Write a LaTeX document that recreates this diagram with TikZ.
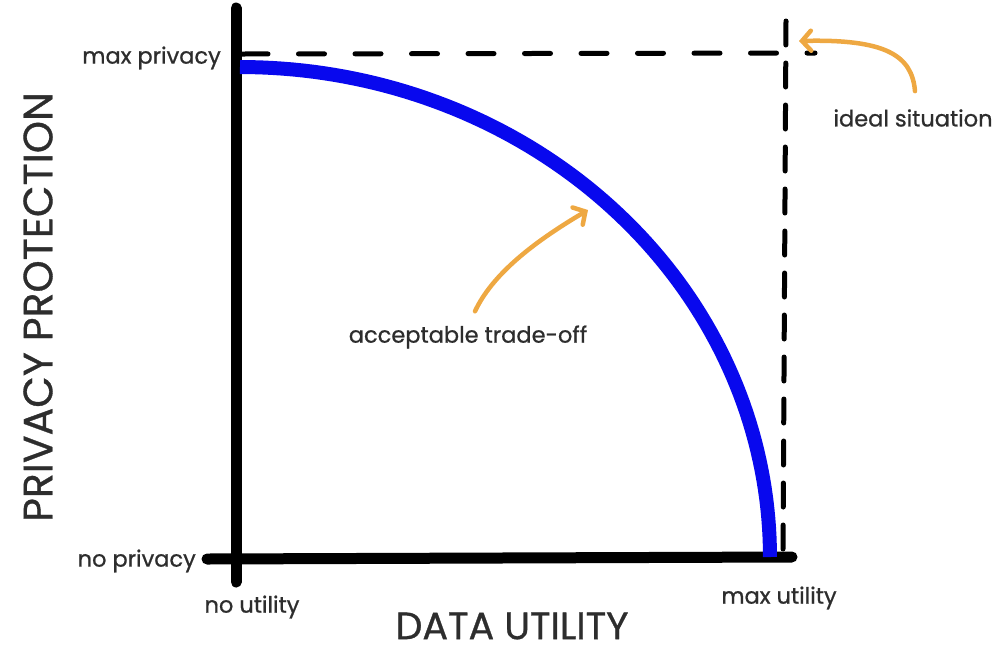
\documentclass[tikz,border=0pt]{standalone}
\usepackage{fontspec}
\setmainfont{Poppins}[FakeBold=0.8]
\usetikzlibrary{arrows.meta}
\definecolor{curveblue}{RGB}{8,8,238}
\definecolor{arroworange}{RGB}{238,168,66}
\definecolor{labelgray}{RGB}{45,45,45}
\begin{document}
\begin{tikzpicture}[x=1pt,y=-1pt,
  axis/.style={line width=11pt, line cap=round},
  hguide/.style={line width=5pt, line cap=round, dash pattern=on 26pt off 30.5pt},
  vguide/.style={line width=5pt, line cap=round, dash pattern=on 24pt off 18pt},
  frontier/.style={line width=14pt, curveblue},
  pointer/.style={line width=4.5pt, arroworange, line cap=round,
    -{Straight Barb[length=9pt,width=20pt,line cap=round]}},
  smalllabel/.style={font=\fontsize{22.5}{26}\selectfont, text=labelgray, inner sep=0pt},
  biglabel/.style={font=\fontsize{38}{42}\selectfont, text=labelgray, inner sep=0pt}]
\useasboundingbox (0,0) rectangle (999,649);

% axes
\coordinate (ytop) at (236,8);
\coordinate (ybot) at (236,582);
\coordinate (xleft) at (207,559);
\coordinate (xright) at (792,557);
\draw[axis] (ytop) -- (ybot);
\draw[axis] (xleft) -- (xright);

% ideal bounds
\coordinate (hstart) at (242,54);
\coordinate (hend) at (815,53);
\coordinate (vtop) at (786,21);
\coordinate (vbot) at (783,552);
\draw[hguide] (hstart) -- (hend);
\draw[vguide] (vtop) -- (vbot);

% trade-off frontier
\draw[frontier] plot[domain=0:90, samples=80] ({240+530*sin(\x)}, {557-490*cos(\x)});

% labels
\node[smalllabel, anchor=east] (maxp) at (221,58) {max privacy};
\node[smalllabel, anchor=east] (nop) at (196,561) {no privacy};
\node[smalllabel] (nou) at (252,607) {no utility};
\node[smalllabel] (maxu) at (779,598) {max utility};
\node[smalllabel] (ideal) at (913,118) {ideal situation};
\node[smalllabel] (trade) at (468,337) {acceptable trade-off};
\node[biglabel] (xtitle) at (512,626) {DATA UTILITY};
\node[biglabel, rotate=90, font=\fontsize{41}{45}\selectfont] (ytitle) at (38,307) {PRIVACY PROTECTION};

% pointers
\coordinate (idealtip) at (799,41);
\coordinate (tradetip) at (588,210);
\draw[pointer] ([xshift=2pt,yshift=18pt]ideal.north) .. controls (912,55) and (885,39) .. (idealtip);
\draw[pointer] ([xshift=7pt,yshift=14pt]trade.north) .. controls (492,275) and (532,243) .. (tradetip);
\end{tikzpicture}
\end{document}
